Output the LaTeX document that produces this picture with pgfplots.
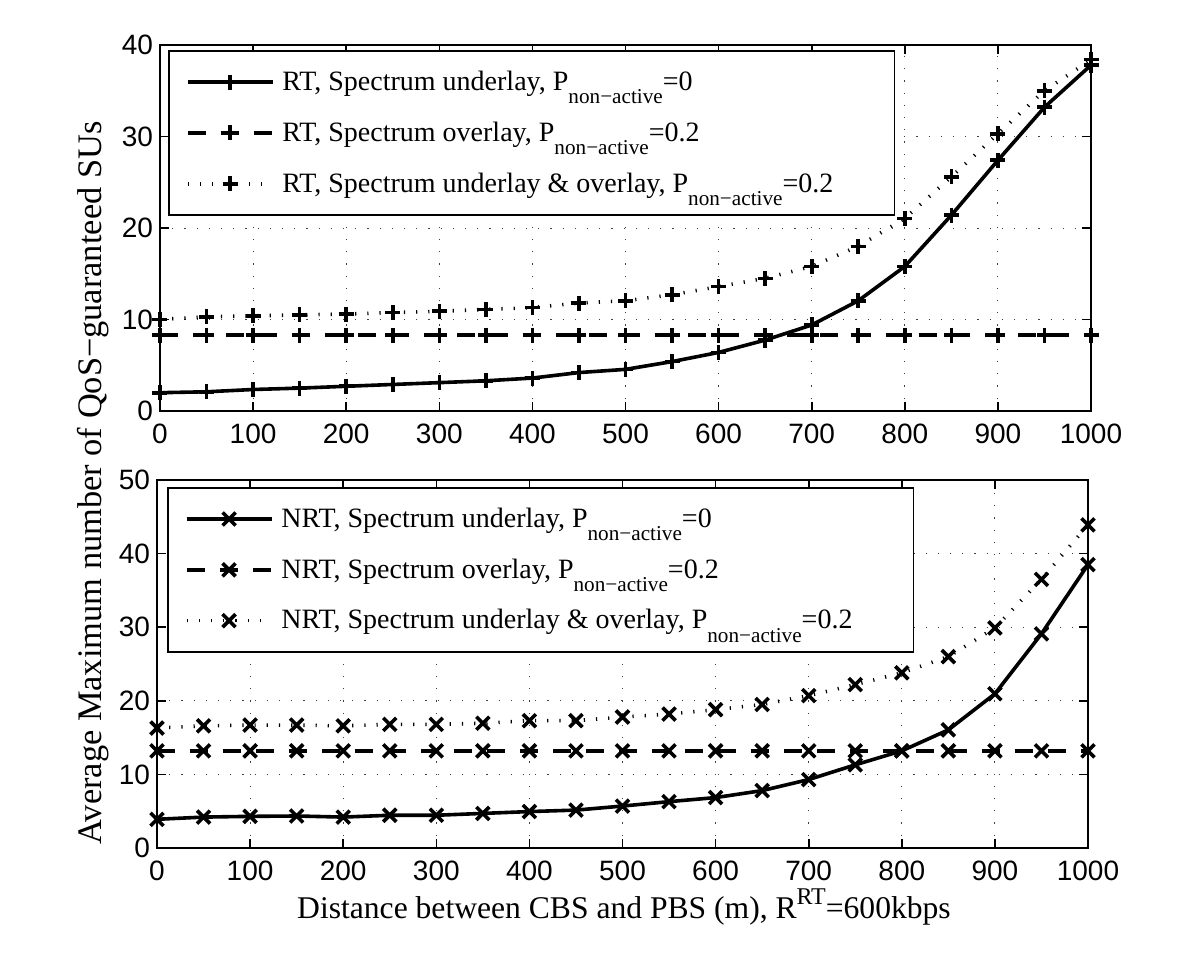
\documentclass[border=0pt]{standalone}
\usepackage{fontspec}
\setmainfont{Liberation Serif}
\newfontfamily\ticksans{Liberation Sans}
\usepackage{pgfplots}
\pgfplotsset{compat=1.18}
\newcommand{\sub}[1]{\raisebox{-6.8pt}{\fontsize{10.6}{12}\selectfont #1}}
\newcommand{\sups}[1]{\raisebox{6.8pt}{\fontsize{12}{14}\selectfont #1}}
\pgfplotsset{
  mstyle/.style={
    scale only axis, width=465.5pt, xmin=0, xmax=1000, xtick={0,100,...,1000},
    tick align=inside, major tick length=4.5pt, clip=false,
    grid=major, major grid style={line width=0.5pt, black!75, dash pattern=on 0.6pt off 5.5pt},
    axis line style={line width=0.8pt}, every tick/.style={line width=0.8pt, black},
    ticklabel style={font=\fontsize{14}{16}\selectfont\ticksans},
    /pgf/number format/assume math mode=true,
    /pgf/number format/1000 sep={},
    xticklabel style={yshift=-3pt},
    legend cell align=left,
    legend style={font=\fontsize{14}{16}\selectfont, draw=black, line width=0.8pt,
      nodes={inner sep=0pt}, inner xsep=8.5pt, inner ysep=10pt, row sep=14.2pt, column sep=4pt,
      anchor=north west},
    legend image code/.code={\draw[mark repeat=2,mark phase=2] plot coordinates {(0pt,0pt)(21.25pt,0pt)(42.5pt,0pt)};},
  },
  s1/.style={black, line width=1.8pt, solid},
  s2/.style={black, line width=1.8pt, dash pattern=on 9pt off 7.5pt},
  s3/.style={black, line width=1.8pt, dash pattern=on 0.6pt off 5.5pt},
  pm/.style={mark=+, mark options={solid, line width=1.8pt, mark size=3.75pt}},
  xm/.style={mark=x, mark options={solid, line width=1.8pt, mark size=4.6pt}},
}
\pgfplotstableread{
x a b c
0 2.0 8.3 10.0
50 2.1 8.3 10.3
100 2.35 8.3 10.4
150 2.5 8.3 10.5
200 2.7 8.3 10.6
250 2.9 8.3 10.75
300 3.1 8.3 10.9
350 3.3 8.3 11.1
400 3.6 8.3 11.3
450 4.2 8.3 11.8
500 4.55 8.3 12.05
550 5.4 8.3 12.7
600 6.4 8.3 13.6
650 7.75 8.3 14.5
700 9.4 8.3 15.8
750 12.05 8.3 18.0
800 15.8 8.3 21.05
850 21.4 8.3 25.6
900 27.4 8.3 30.3
950 33.2 8.3 35.0
1000 37.8 8.3 38.4
}\toptab
\pgfplotstableread{
x a b c
0 3.9 13.2 16.3
50 4.2 13.2 16.6
100 4.3 13.2 16.7
150 4.35 13.2 16.7
200 4.2 13.2 16.6
250 4.45 13.2 16.8
300 4.45 13.2 16.8
350 4.7 13.2 16.95
400 4.95 13.2 17.3
450 5.15 13.2 17.3
500 5.7 13.2 17.8
550 6.3 13.2 18.2
600 6.85 13.2 18.8
650 7.8 13.2 19.5
700 9.3 13.2 20.7
750 11.3 13.2 22.2
800 13.2 13.2 23.8
850 16.05 13.2 26.0
900 20.95 13.2 29.9
950 29.1 13.2 36.5
1000 38.5 13.2 43.9
}\bottab
\begin{document}
\begin{tikzpicture}
\path[use as bounding box] (0,0) rectangle (600pt,477.5pt);
\begin{axis}[mstyle, at={(80pt,272pt)}, anchor=south west, height=183pt,
  ymin=0, ymax=40, ytick={0,10,...,40},
  legend style={at={(0.0086,0.986)}}]
\addplot[s1,pm] table[x=x,y=a] {\toptab};
\addlegendentry{RT, Spectrum underlay, P\sub{non−active}=0}
\addplot[s2,pm] table[x=x,y=b] {\toptab};
\addlegendentry{RT, Spectrum overlay, P\sub{non−active}=0.2}
\addplot[s3,pm] table[x=x,y=c] {\toptab};
\addlegendentry{RT, Spectrum underlay \& overlay, P\sub{non−active}=0.2\rule{22pt}{0pt}}
\end{axis}
\begin{axis}[mstyle, at={(78.5pt,53.5pt)}, anchor=south west, height=184pt,
  ymin=0, ymax=50, ytick={0,10,...,50},
  legend style={at={(0.0107,0.981)}}]
\addplot[s1,xm] table[x=x,y=a] {\bottab};
\addlegendentry{NRT, Spectrum underlay, P\sub{non−active}=0}
\addplot[s2,xm] table[x=x,y=b] {\bottab};
\addlegendentry{NRT, Spectrum overlay, P\sub{non−active}=0.2}
\addplot[s3,xm] table[x=x,y=c] {\bottab};
\addlegendentry{NRT, Spectrum underlay \& overlay, P\sub{non−active}=0.2\rule{22pt}{0pt}}
\end{axis}
\node[rotate=90, anchor=base, font=\fontsize{17.2}{20}\selectfont] at (50.5pt,236pt) {Average Maximum number of QoS−guaranteed SUs};
\node[anchor=base, font=\fontsize{15.8}{18}\selectfont] at (312pt,18.5pt) {Distance between CBS and PBS (m), R\sups{RT}=600kbps};
\end{tikzpicture}
\end{document}
